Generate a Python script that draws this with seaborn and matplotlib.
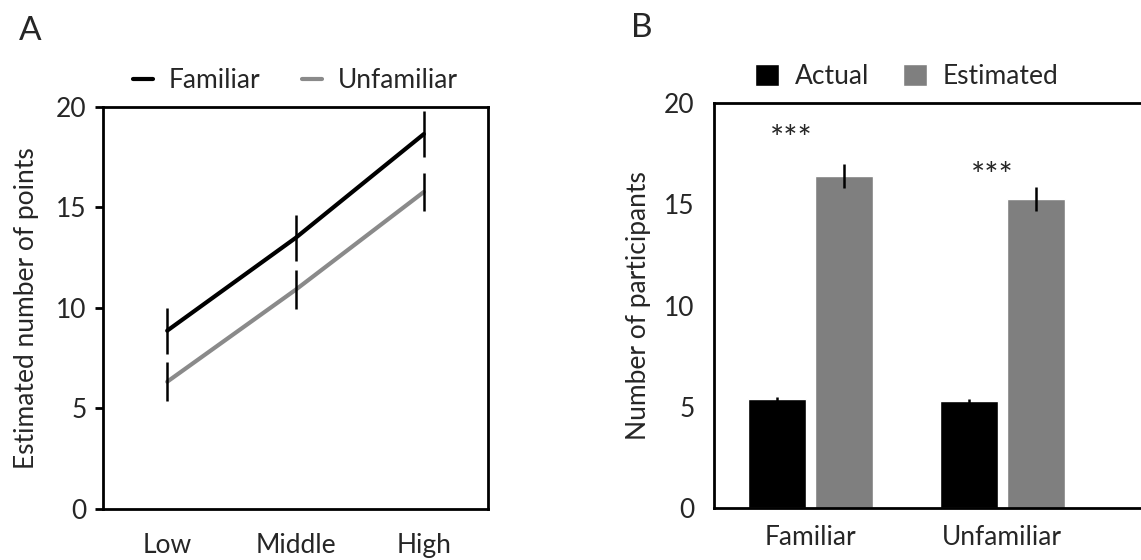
import matplotlib
matplotlib.use('Agg')
import matplotlib.pyplot as plt
import pandas as pd
import seaborn as sns
from matplotlib.ticker import FixedLocator, NullFormatter

sns.set_theme(style='white')
plt.rcParams['font.family'] = ['Lato', 'DejaVu Sans']

# panel A data
niveis = ['Low', 'Middle', 'High']
familiar = [8.87, 13.48, 18.65]
familiar_se = [1.15, 1.15, 1.15]
unfamiliar = [6.33, 10.9, 15.77]
unfamiliar_se = [0.97, 0.97, 0.95]

# panel B data
grupos = ['Familiar', 'Unfamiliar']
actual = [5.37, 5.28]
actual_se = [0.13, 0.12]
estimated = [16.4, 15.27]
estimated_se = [0.6, 0.6]
estrelas = ['***', '***']

df_a = pd.DataFrame({
    'nivel': niveis * 2,
    'valor': familiar + unfamiliar,
    'grupo': ['Familiar'] * 3 + ['Unfamiliar'] * 3,
})

df_b = pd.DataFrame({
    'grupo': grupos * 2,
    'valor': actual + estimated,
    'tipo': ['Actual'] * 2 + ['Estimated'] * 2,
})

FS = 19

fig = plt.figure(figsize=(11.41, 5.6), dpi=100)
ax1 = fig.add_axes([0.0903, 0.0911, 0.3374, 0.718])
ax2 = fig.add_axes([0.6258, 0.0929, 0.3786, 0.723])

# ---- A
sns.lineplot(data=df_a, x='nivel', y='valor', hue='grupo',
             palette={'Familiar': 'black', 'Unfamiliar': '#8a8a8a'},
             linewidth=3, ax=ax1, legend=True)
ax1.errorbar(niveis, familiar, yerr=familiar_se, fmt='none', ecolor='black', elinewidth=1.8)
ax1.errorbar(niveis, unfamiliar, yerr=unfamiliar_se, fmt='none', ecolor='black', elinewidth=1.8)

ax1.set_xlim(-0.5, 2.5)
ax1.set_ylim(0, 20)
ax1.set_yticks([0, 5, 10, 15, 20])
ax1.xaxis.set_minor_locator(FixedLocator([-0.5, 0.5, 1.5, 2.5]))
ax1.xaxis.set_minor_formatter(NullFormatter())
ax1.tick_params(axis='x', which='major', length=0, labelsize=FS, pad=17)
ax1.tick_params(axis='x', which='minor', length=6, width=2, direction='out', color='black')
ax1.tick_params(axis='y', length=6, width=2, direction='out', color='black', labelsize=FS,
                left=True, pad=6)
ax1.set_xlabel('')
ax1.set_ylabel('Estimated number of points', fontsize=FS, labelpad=12)
for s in ax1.spines.values():
    s.set_linewidth(2)
    s.set_color('black')
h, l = ax1.get_legend_handles_labels()
ax1.legend(h, l, loc='lower center', bbox_to_anchor=(0.5, 0.975), ncol=2, frameon=False,
           fontsize=FS, handlelength=0.75, columnspacing=1.6, handletextpad=0.6)
fig.text(0.017, 0.945, 'A', fontsize=24, va='center')

# ---- B
sns.barplot(data=df_b, x='grupo', y='valor', hue='tipo',
            palette={'Actual': 'black', 'Estimated': '#7f7f7f'},
            width=0.698, gap=0.134, errorbar=None, ax=ax2, saturation=1)
for barras, erros in zip(ax2.containers, [actual_se, estimated_se]):
    xs = [b.get_x() + b.get_width() / 2 for b in barras]
    ys = [b.get_height() for b in barras]
    ax2.errorbar(xs, ys, yerr=erros, fmt='none', ecolor='black', elinewidth=1.8)
# asterisks placed as in the original figure
estrela_x = [-0.1, 0.95]
estrela_y = [18.2, 16.35]
for txt, xe, ye in zip(estrelas, estrela_x, estrela_y):
    ax2.text(xe, ye, txt, ha='center', va='center', fontsize=FS + 5)

ax2.set_xlim(-0.5, 1.75)
ax2.set_ylim(0, 20)
ax2.set_yticks([0, 5, 10, 15, 20])
ax2.tick_params(axis='x', length=0, labelsize=FS, pad=12)
ax2.tick_params(axis='y', length=0, labelsize=FS, pad=14)
ax2.set_xlabel('')
ax2.set_ylabel('Number of participants', fontsize=FS, labelpad=9)
for s in ax2.spines.values():
    s.set_linewidth(2)
    s.set_color('black')
h, l = ax2.get_legend_handles_labels()
ax2.legend(h, l, loc='lower left', bbox_to_anchor=(0.04, 0.975), ncol=2, frameon=False,
           fontsize=FS, handlelength=0.9, handleheight=0.9, columnspacing=1.3, handletextpad=0.6)
fig.text(0.553, 0.95, 'B', fontsize=24, va='center')

plt.savefig('out.png', dpi=100)
